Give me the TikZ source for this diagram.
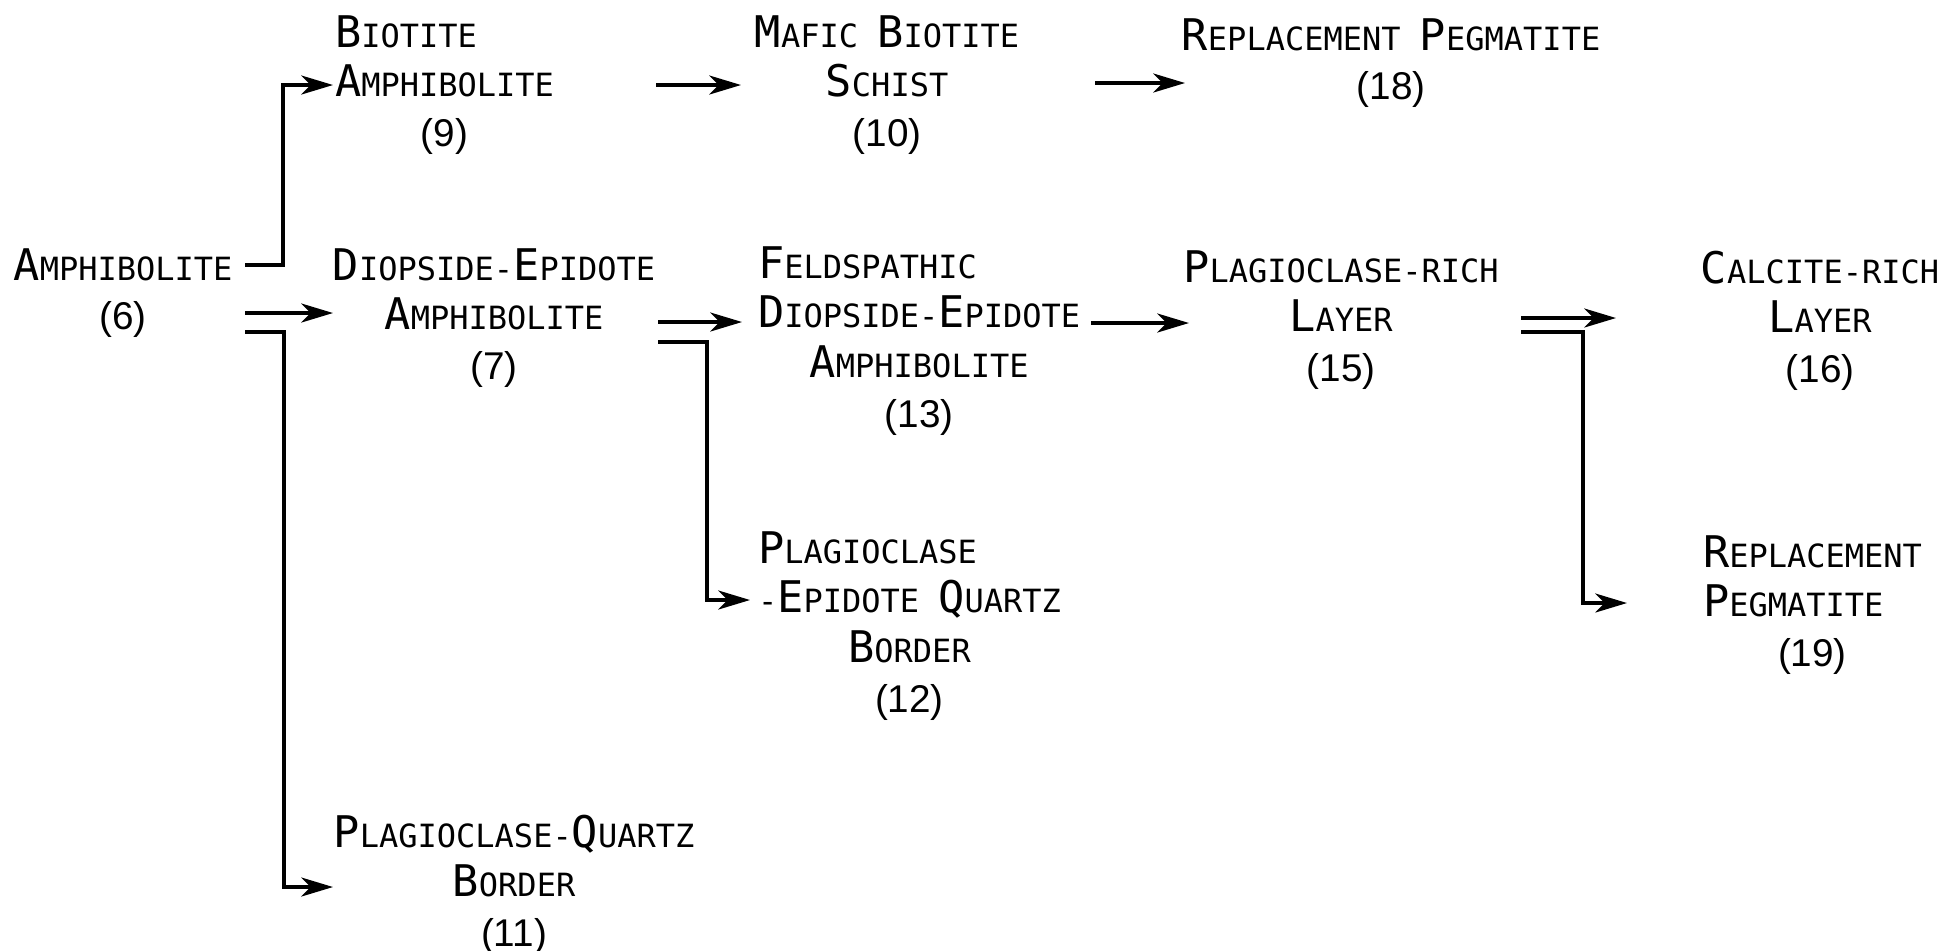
\documentclass[tikz,border=0pt]{standalone}
\usepackage{fontspec}
\newfontfamily\lett{DejaVu Sans Mono}
\newfontfamily\numf{Liberation Sans}
\usetikzlibrary{arrows.meta}
\newcommand\Bg[1]{{\fontsize{12.4pt}{14.2pt}\selectfont #1}}
\newcommand\Sm[1]{{\fontsize{9.1pt}{14.2pt}\selectfont #1}}
\newcommand\Nm[1]{{\numf\fontsize{11pt}{14.2pt}\selectfont #1}}
\newcommand\Lf[1]{\multicolumn{1}{@{}l@{}}{#1}}
\begin{document}
\begin{tikzpicture}[x=0.01cm,y=-0.01cm,
  lbl/.style={inner sep=0pt, outer sep=0pt, font=\lett\fontsize{12.4pt}{14.2pt}\selectfont},
  conn/.style={line width=0.95pt, line join=miter, -{Stealth[length=9pt,width=5.4pt,inset=2.6pt]}}]
\useasboundingbox (0,0) rectangle (1948,950);

% nodes
\node[lbl,anchor=base] (n6) at (123,280) {\begin{tabular}[t]{@{}c@{}}\Bg{A}\Sm{MPHIBOLITE}\\\Nm{(6)}\end{tabular}};
\node[lbl,anchor=base west] (n9) at (335,47) {\begin{tabular}[t]{@{}c@{}}\Lf{\Bg{B}\Sm{IOTITE}}\\\Bg{A}\Sm{MPHIBOLITE}\\\Nm{(9)}\end{tabular}};
\node[lbl,anchor=base] (n7) at (494,280) {\begin{tabular}[t]{@{}c@{}}\Bg{D}\Sm{IOPSIDE-}\Bg{E}\Sm{PIDOTE}\\\Bg{A}\Sm{MPHIBOLITE}\\\Nm{(7)}\end{tabular}};
\node[lbl,anchor=base] (n10) at (887,47) {\begin{tabular}[t]{@{}c@{}}\Bg{M}\Sm{AFIC }\Bg{B}\Sm{IOTITE}\\\Bg{S}\Sm{CHIST}\\\Nm{(10)}\end{tabular}};
\node[lbl,anchor=base] (n18) at (1391,50) {\begin{tabular}[t]{@{}c@{}}\Bg{R}\Sm{EPLACEMENT }\Bg{P}\Sm{EGMATITE}\\\Nm{(18)}\end{tabular}};
\node[lbl,anchor=base west] (n13) at (758,278) {\begin{tabular}[t]{@{}c@{}}\Lf{\Bg{F}\Sm{ELDSPATHIC}}\\\Bg{D}\Sm{IOPSIDE-}\Bg{E}\Sm{PIDOTE}\\\Bg{A}\Sm{MPHIBOLITE}\\\Nm{(13)}\end{tabular}};
\node[lbl,anchor=base] (n15) at (1341,282) {\begin{tabular}[t]{@{}c@{}}\Bg{P}\Sm{LAGIOCLASE-RICH}\\\Bg{L}\Sm{AYER}\\\Nm{(15)}\end{tabular}};
\node[lbl,anchor=base] (n16) at (1820,283) {\begin{tabular}[t]{@{}c@{}}\Bg{C}\Sm{ALCITE-RICH}\\\Bg{L}\Sm{AYER}\\\Nm{(16)}\end{tabular}};
\node[lbl,anchor=base west] (n12) at (758,563) {\begin{tabular}[t]{@{}c@{}}\Lf{\Bg{P}\Sm{LAGIOCLASE}}\\\Sm{-}\Bg{E}\Sm{PIDOTE }\Bg{Q}\Sm{UARTZ}\\\Bg{B}\Sm{ORDER}\\\Nm{(12)}\end{tabular}};
\node[lbl,anchor=base west] (n19) at (1703,567) {\begin{tabular}[t]{@{}c@{}}\Bg{R}\Sm{EPLACEMENT}\\\Lf{\Bg{P}\Sm{EGMATITE}}\\\Nm{(19)}\end{tabular}};
\node[lbl,anchor=base] (n11) at (514,847) {\begin{tabular}[t]{@{}c@{}}\Bg{P}\Sm{LAGIOCLASE-}\Bg{Q}\Sm{UARTZ}\\\Bg{B}\Sm{ORDER}\\\Nm{(11)}\end{tabular}};

% connector end points
\coordinate (o6a) at (245,265);
\coordinate (o6b) at (245,313);
\coordinate (o6c) at (245,332);
\coordinate (i9) at (333,85);
\coordinate (i7) at (333,313);
\coordinate (i11) at (333,887);
\coordinate (o9) at (656,85);
\coordinate (i10) at (741,85);
\coordinate (o10) at (1095,83);
\coordinate (i18) at (1185,83);
\coordinate (o7a) at (658,322);
\coordinate (o7b) at (658,342);
\coordinate (i13) at (742,322);
\coordinate (i12) at (750,600);
\coordinate (o13) at (1091,323);
\coordinate (i15) at (1189,323);
\coordinate (o15a) at (1521,318);
\coordinate (o15b) at (1521,332);
\coordinate (i16) at (1616,318);
\coordinate (i19) at (1627,603);

% connectors
\draw[conn] (o6a) -- ++(38,0) |- (i9);
\draw[conn] (o6b) -- (i7);
\draw[conn] (o6c) -- ++(39,0) |- (i11);
\draw[conn] (o9) -- (i10);
\draw[conn] (o10) -- (i18);
\draw[conn] (o7a) -- (i13);
\draw[conn] (o7b) -- ++(49,0) |- (i12);
\draw[conn] (o13) -- (i15);
\draw[conn] (o15a) -- (i16);
\draw[conn] (o15b) -- ++(62,0) |- (i19);
\end{tikzpicture}
\end{document}
